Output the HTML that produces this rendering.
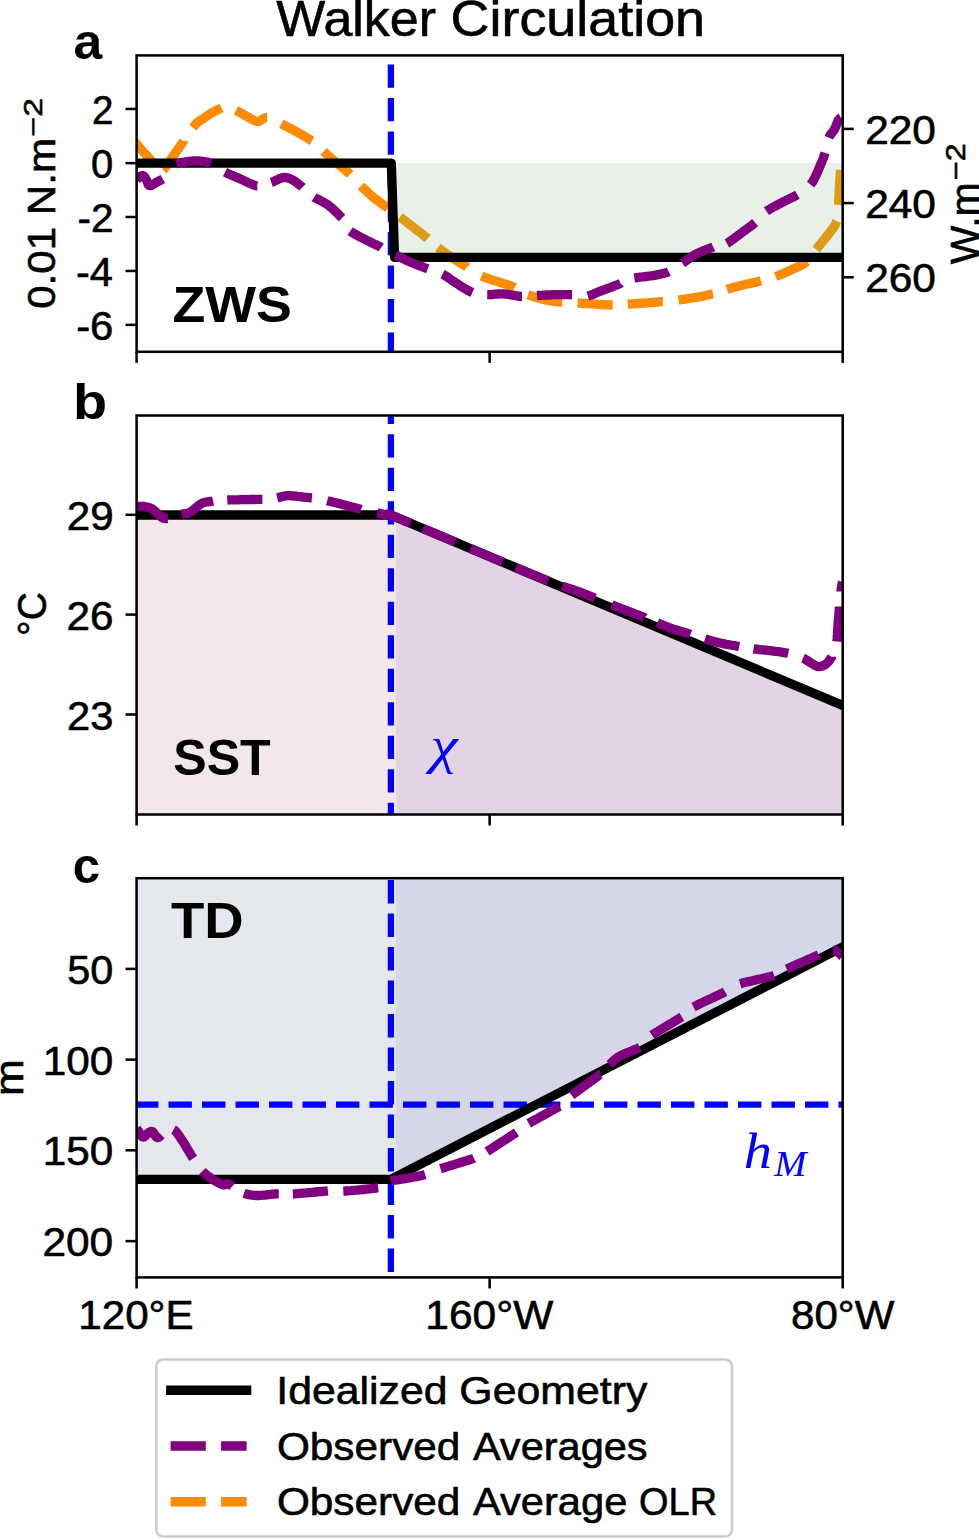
<!DOCTYPE html>
<html><head><meta charset="utf-8"><title>Walker Circulation</title>
<style>html,body{margin:0;padding:0;background:#fff;}svg{display:block;}</style></head>
<body><svg width="979" height="1540" viewBox="0 0 979 1540">
<rect width="979" height="1540" fill="#fff"/>
<defs>
<clipPath id="ca"><rect x="136.6" y="55.4" width="706.1" height="296.40000000000003"/></clipPath>
<clipPath id="cb"><rect x="136.6" y="415.5" width="706.1" height="399.0"/></clipPath>
<clipPath id="cc"><rect x="136.6" y="878.2" width="706.1" height="399.20000000000005"/></clipPath>
<clipPath id="infill"><rect x="396.0" y="163.1" width="446.70000000000005" height="94.20000000000002"/></clipPath>
<clipPath id="nofill"><path d="M0,0H979V1540H0Z M396.0,163.1V257.3H842.7V163.1Z" clip-rule="evenodd"/></clipPath>
</defs>
<rect x="396.0" y="163.1" width="446.70000000000005" height="94.20000000000002" fill="rgb(233,240,232)"/>
<g clip-path="url(#nofill)"><g fill="none" stroke="#ff8c00" stroke-width="9.3" stroke-linejoin="round" stroke-linecap="butt" clip-path="url(#ca)"><polyline points="130.0,135.0 130.3,135.4 130.7,136.0 131.2,136.7 131.7,137.4 132.3,138.2 132.9,139.0 133.5,139.9 134.2,140.8 134.8,141.6 135.4,142.5 136.0,143.3 136.6,144.0 137.1,144.7 137.7,145.3 138.2,146.0 138.7,146.6 139.3,147.2 139.8,147.9 140.3,148.5 140.9,149.1 141.4,149.7 141.9,150.3 142.5,150.9 143.0,151.5 143.5,152.1 144.1,152.7 144.7,153.3 145.2,153.9 145.8,154.5 146.4,155.1 146.9,155.7 147.5,156.3 148.0,156.9 148.6,157.5 149.1,158.1 149.6,158.7 150.1,159.3 150.6,159.9 151.1,160.5 151.5,161.1 152.0,161.7 152.0,161.7"/><polyline points="163.2,169.7 163.6,169.4 163.9,169.0 164.3,168.6 164.7,168.1 165.1,167.6 165.5,167.1 165.9,166.5 166.3,165.9 166.7,165.3 167.1,164.7 167.6,164.1 168.0,163.5 168.4,162.9 168.9,162.3 169.3,161.6 169.8,160.9 170.3,160.2 170.7,159.6 171.2,158.9 171.7,158.2 172.1,157.5 172.6,156.8 173.1,156.1 173.5,155.5 173.9,154.9 174.4,154.3 174.8,153.7 175.2,153.1 175.6,152.5 176.0,152.0 176.4,151.4 176.9,150.8 177.3,150.2 177.7,149.7 178.1,149.1 178.5,148.5 178.9,147.9 179.3,147.3 179.8,146.7 180.2,146.1 180.6,145.4 181.0,144.8 181.5,144.2 181.9,143.6 182.3,143.0 182.7,142.4 183.1,141.8 183.5,141.2 183.5,141.1"/><polyline points="192.9,127.7 193.3,127.2 193.7,126.7 194.0,126.3 194.4,125.8 194.8,125.3 195.2,124.9 195.5,124.5 195.9,124.1 196.3,123.7 196.7,123.3 197.1,122.9 197.5,122.5 197.9,122.1 198.3,121.8 198.8,121.5 199.2,121.2 199.6,120.9 200.1,120.6 200.6,120.3 201.0,120.0 201.5,119.7 202.0,119.4 202.5,119.1 203.1,118.7 203.7,118.3 204.3,117.9 204.9,117.4 205.5,117.0 206.2,116.5 206.9,116.0 207.6,115.6 208.2,115.1 208.9,114.6 209.6,114.2 210.3,113.7 211.0,113.3 211.7,112.9 212.4,112.5 213.1,112.1 213.8,111.7 214.6,111.3 215.3,110.9 216.0,110.5 216.7,110.2 217.4,109.8 218.1,109.5 218.8,109.2 219.4,108.9 220.0,108.6 220.6,108.4 221.1,108.1 221.5,107.9"/><polyline points="235.9,110.3 236.7,110.7 237.6,111.1 238.4,111.6 239.2,112.0 240.1,112.5 240.9,113.0 241.7,113.5 242.6,114.0 243.4,114.5 244.3,115.0 245.1,115.5 246.0,116.0 246.9,116.5 247.8,117.0 248.8,117.5 249.8,118.1 250.7,118.6 251.7,119.2 252.7,119.7 253.6,120.2 254.5,120.6 255.3,120.9 256.1,121.2 256.8,121.4 257.4,121.5 258.0,121.5 258.5,121.4 259.0,121.3 259.4,121.1 259.8,120.9 260.2,120.7 260.6,120.4 260.9,120.1 261.3,119.9 261.6,119.7 262.0,119.5 262.4,119.3 262.7,119.2 263.0,119.0 263.3,118.8 263.7,118.6 263.9,118.4 264.3,118.2 264.6,118.1 264.9,117.9 265.2,117.8 265.6,117.7 266.0,117.7 266.4,117.7 266.8,117.7 267.2,117.7"/><polyline points="281.3,123.8 282.3,124.3 283.4,124.9 284.6,125.5 285.8,126.1 287.0,126.7 288.3,127.4 289.6,128.1 290.9,128.7 292.2,129.4 293.5,130.1 294.7,130.8 296.0,131.5 297.3,132.2 298.6,133.0 300.0,133.7 301.4,134.5 302.8,135.3 304.2,136.1 305.5,136.9 306.8,137.7 308.1,138.4 309.2,139.1 310.3,139.8 311.3,140.4 312.0,140.8"/><polyline points="323.6,151.4 324.3,152.1 325.1,152.8 326.0,153.6 326.9,154.4 327.8,155.2 328.8,156.1 329.8,157.0 330.8,157.9 331.9,158.8 332.9,159.7 334.0,160.6 335.0,161.5 336.1,162.4 337.2,163.3 338.3,164.2 339.4,165.2 340.6,166.1 341.7,167.1 342.9,168.0 344.1,169.0 345.2,170.0 346.4,171.0 347.5,172.0 348.6,173.0 349.7,174.0 350.1,174.4"/><polyline points="361.0,186.0 362.0,187.0 363.0,188.0 364.0,188.9 365.0,189.9 366.0,190.8 367.0,191.7 367.9,192.6 368.9,193.5 369.9,194.4 370.9,195.3 372.0,196.1 373.0,197.0 374.0,197.9 375.1,198.7 376.2,199.5 377.2,200.3 378.3,201.1 379.4,201.9 380.5,202.7 381.6,203.5 382.7,204.4 383.8,205.2 384.9,206.0 386.0,206.8 387.1,207.6 388.0,208.3"/><polyline points="399.9,217.0 401.0,217.8 402.1,218.7 403.2,219.5 404.3,220.3 405.4,221.1 406.5,222.0 407.5,222.8 408.6,223.6 409.7,224.4 410.8,225.3 411.9,226.1 413.0,227.0 414.1,227.9 415.3,228.8 416.5,229.7 417.6,230.6 418.8,231.5 420.0,232.4 421.2,233.3 422.4,234.2 423.5,235.2 424.6,236.0 425.7,236.9 426.8,237.8 427.6,238.5"/><polyline points="437.9,247.6 439.0,248.4 440.1,249.2 441.2,250.1 442.4,250.9 443.5,251.7 444.7,252.6 445.9,253.4 447.1,254.2 448.4,255.1 449.6,255.9 450.8,256.7 452.0,257.5 453.2,258.3 454.4,259.1 455.7,259.9 456.9,260.7 458.1,261.5 459.4,262.3 460.6,263.1 461.8,263.9 463.1,264.7 464.3,265.5 465.6,266.2 466.8,267.0 467.0,267.2"/><polyline points="481.5,276.0 482.9,276.6 484.5,277.3 486.1,277.9 487.7,278.4 489.4,279.0 491.1,279.6 492.7,280.1 494.4,280.6 496.0,281.1 497.5,281.6 499.0,282.1 500.3,282.5 501.5,282.9 502.7,283.3 503.7,283.6 504.7,283.9 505.7,284.2 506.6,284.4 507.5,284.7 508.4,285.0 509.4,285.4 510.4,285.7 511.4,286.1 512.5,286.6 513.7,287.1 514.6,287.6"/><polyline points="528.0,294.7 529.3,295.2 530.7,295.7 532.0,296.2 533.4,296.7 534.8,297.1 536.1,297.5 537.5,297.9 538.9,298.3 540.3,298.6 541.7,299.0 543.0,299.3 544.4,299.6 545.8,299.9 547.1,300.2 548.5,300.4 549.8,300.7 551.2,300.9 552.5,301.1 553.9,301.3 555.2,301.5 556.6,301.6 557.9,301.8 559.3,302.0 560.7,302.1 562.1,302.2 562.2,302.2"/><polyline points="577.6,303.0 579.0,303.1 580.4,303.2 581.7,303.2 583.1,303.3 584.5,303.4 585.8,303.5 587.2,303.6 588.5,303.7 589.9,303.7 591.3,303.8 592.6,303.9 594.0,304.0 595.4,304.1 596.8,304.2 598.1,304.3 599.5,304.4 600.9,304.5 602.3,304.6 603.7,304.7 605.1,304.8 606.5,304.9 607.9,304.9 609.3,305.0 610.7,305.0 612.1,305.0 612.6,305.0"/><polyline points="627.8,304.2 629.2,304.1 630.7,304.0 632.1,303.9 633.6,303.8 635.0,303.7 636.5,303.6 637.9,303.5 639.3,303.4 640.8,303.3 642.2,303.2 643.6,303.1 645.0,303.0 646.4,302.9 647.8,302.8 649.1,302.7 650.5,302.6 651.8,302.5 653.1,302.4 654.5,302.3 655.8,302.2 657.2,302.1 658.5,301.9 659.9,301.8 661.3,301.7 662.7,301.6 662.8,301.6"/><polyline points="678.5,300.0 679.9,299.8 681.3,299.6 682.7,299.4 684.1,299.3 685.4,299.1 686.8,298.8 688.2,298.6 689.6,298.4 690.9,298.2 692.3,298.0 693.6,297.7 695.0,297.5 696.4,297.3 697.7,297.0 699.1,296.8 700.4,296.6 701.8,296.3 703.1,296.1 704.4,295.8 705.8,295.5 707.1,295.2 708.4,294.9 709.8,294.6 711.1,294.3 712.4,293.9 713.0,293.8"/><polyline points="726.9,289.3 728.2,288.9 729.6,288.5 730.9,288.2 732.2,287.8 733.5,287.4 734.9,287.1 736.2,286.7 737.6,286.4 738.9,286.0 740.3,285.7 741.6,285.3 743.0,285.0 744.4,284.7 745.8,284.3 747.2,284.0 748.7,283.7 750.1,283.4 751.5,283.1 753.0,282.8 754.4,282.4 755.8,282.1 757.2,281.8 758.6,281.4 760.0,281.1 761.0,280.8"/><polyline points="775.6,276.5 776.9,276.0 778.2,275.5 779.5,275.0 780.7,274.5 782.0,274.0 783.3,273.5 784.6,272.9 785.8,272.4 787.1,271.8 788.4,271.2 789.7,270.6 791.0,270.0 792.3,269.4 793.7,268.8 795.1,268.2 796.5,267.5 797.9,266.9 799.3,266.3 800.7,265.6 802.0,264.9 803.3,264.2 804.5,263.4 805.7,262.6 806.8,261.8 807.2,261.5"/><polyline points="816.2,249.5 817.1,248.4 818.0,247.3 818.9,246.1 819.8,245.0 820.8,243.8 821.7,242.6 822.7,241.4 823.6,240.3 824.5,239.2 825.4,238.1 826.2,237.0 827.0,236.0 827.8,235.0 828.5,234.1 829.2,233.2 829.9,232.4 830.6,231.5 831.2,230.7 831.8,229.9 832.4,229.1 833.0,228.3 833.5,227.6 834.0,226.8 834.5,226.0 834.9,225.2 835.3,224.5 835.7,223.8 836.0,223.0 836.3,222.3 836.5,221.6 836.7,221.2"/><polyline points="838.5,205.0 838.6,203.8 838.6,202.4 838.7,201.1 838.8,199.7 838.9,198.2 838.9,196.8 839.0,195.3 839.1,193.8 839.2,192.3 839.2,190.8 839.3,189.4 839.4,188.0 839.5,186.6 839.6,185.2 839.6,183.8 839.7,182.3 839.8,180.9 839.9,179.5 840.0,178.1 840.1,176.8 840.2,175.5 840.2,174.2 840.3,173.1 840.4,172.0 840.5,171.0 840.6,170.0 840.6,170.0"/></g></g>
<g clip-path="url(#infill)"><g fill="none" stroke="rgb(222,156,22)" stroke-width="9.3" stroke-linejoin="round" stroke-linecap="butt" clip-path="url(#ca)"><polyline points="130.0,135.0 130.3,135.4 130.7,136.0 131.2,136.7 131.7,137.4 132.3,138.2 132.9,139.0 133.5,139.9 134.2,140.8 134.8,141.6 135.4,142.5 136.0,143.3 136.6,144.0 137.1,144.7 137.7,145.3 138.2,146.0 138.7,146.6 139.3,147.2 139.8,147.9 140.3,148.5 140.9,149.1 141.4,149.7 141.9,150.3 142.5,150.9 143.0,151.5 143.5,152.1 144.1,152.7 144.7,153.3 145.2,153.9 145.8,154.5 146.4,155.1 146.9,155.7 147.5,156.3 148.0,156.9 148.6,157.5 149.1,158.1 149.6,158.7 150.1,159.3 150.6,159.9 151.1,160.5 151.5,161.1 152.0,161.7 152.0,161.7"/><polyline points="163.2,169.7 163.6,169.4 163.9,169.0 164.3,168.6 164.7,168.1 165.1,167.6 165.5,167.1 165.9,166.5 166.3,165.9 166.7,165.3 167.1,164.7 167.6,164.1 168.0,163.5 168.4,162.9 168.9,162.3 169.3,161.6 169.8,160.9 170.3,160.2 170.7,159.6 171.2,158.9 171.7,158.2 172.1,157.5 172.6,156.8 173.1,156.1 173.5,155.5 173.9,154.9 174.4,154.3 174.8,153.7 175.2,153.1 175.6,152.5 176.0,152.0 176.4,151.4 176.9,150.8 177.3,150.2 177.7,149.7 178.1,149.1 178.5,148.5 178.9,147.9 179.3,147.3 179.8,146.7 180.2,146.1 180.6,145.4 181.0,144.8 181.5,144.2 181.9,143.6 182.3,143.0 182.7,142.4 183.1,141.8 183.5,141.2 183.5,141.1"/><polyline points="192.9,127.7 193.3,127.2 193.7,126.7 194.0,126.3 194.4,125.8 194.8,125.3 195.2,124.9 195.5,124.5 195.9,124.1 196.3,123.7 196.7,123.3 197.1,122.9 197.5,122.5 197.9,122.1 198.3,121.8 198.8,121.5 199.2,121.2 199.6,120.9 200.1,120.6 200.6,120.3 201.0,120.0 201.5,119.7 202.0,119.4 202.5,119.1 203.1,118.7 203.7,118.3 204.3,117.9 204.9,117.4 205.5,117.0 206.2,116.5 206.9,116.0 207.6,115.6 208.2,115.1 208.9,114.6 209.6,114.2 210.3,113.7 211.0,113.3 211.7,112.9 212.4,112.5 213.1,112.1 213.8,111.7 214.6,111.3 215.3,110.9 216.0,110.5 216.7,110.2 217.4,109.8 218.1,109.5 218.8,109.2 219.4,108.9 220.0,108.6 220.6,108.4 221.1,108.1 221.5,107.9"/><polyline points="235.9,110.3 236.7,110.7 237.6,111.1 238.4,111.6 239.2,112.0 240.1,112.5 240.9,113.0 241.7,113.5 242.6,114.0 243.4,114.5 244.3,115.0 245.1,115.5 246.0,116.0 246.9,116.5 247.8,117.0 248.8,117.5 249.8,118.1 250.7,118.6 251.7,119.2 252.7,119.7 253.6,120.2 254.5,120.6 255.3,120.9 256.1,121.2 256.8,121.4 257.4,121.5 258.0,121.5 258.5,121.4 259.0,121.3 259.4,121.1 259.8,120.9 260.2,120.7 260.6,120.4 260.9,120.1 261.3,119.9 261.6,119.7 262.0,119.5 262.4,119.3 262.7,119.2 263.0,119.0 263.3,118.8 263.7,118.6 263.9,118.4 264.3,118.2 264.6,118.1 264.9,117.9 265.2,117.8 265.6,117.7 266.0,117.7 266.4,117.7 266.8,117.7 267.2,117.7"/><polyline points="281.3,123.8 282.3,124.3 283.4,124.9 284.6,125.5 285.8,126.1 287.0,126.7 288.3,127.4 289.6,128.1 290.9,128.7 292.2,129.4 293.5,130.1 294.7,130.8 296.0,131.5 297.3,132.2 298.6,133.0 300.0,133.7 301.4,134.5 302.8,135.3 304.2,136.1 305.5,136.9 306.8,137.7 308.1,138.4 309.2,139.1 310.3,139.8 311.3,140.4 312.0,140.8"/><polyline points="323.6,151.4 324.3,152.1 325.1,152.8 326.0,153.6 326.9,154.4 327.8,155.2 328.8,156.1 329.8,157.0 330.8,157.9 331.9,158.8 332.9,159.7 334.0,160.6 335.0,161.5 336.1,162.4 337.2,163.3 338.3,164.2 339.4,165.2 340.6,166.1 341.7,167.1 342.9,168.0 344.1,169.0 345.2,170.0 346.4,171.0 347.5,172.0 348.6,173.0 349.7,174.0 350.1,174.4"/><polyline points="361.0,186.0 362.0,187.0 363.0,188.0 364.0,188.9 365.0,189.9 366.0,190.8 367.0,191.7 367.9,192.6 368.9,193.5 369.9,194.4 370.9,195.3 372.0,196.1 373.0,197.0 374.0,197.9 375.1,198.7 376.2,199.5 377.2,200.3 378.3,201.1 379.4,201.9 380.5,202.7 381.6,203.5 382.7,204.4 383.8,205.2 384.9,206.0 386.0,206.8 387.1,207.6 388.0,208.3"/><polyline points="399.9,217.0 401.0,217.8 402.1,218.7 403.2,219.5 404.3,220.3 405.4,221.1 406.5,222.0 407.5,222.8 408.6,223.6 409.7,224.4 410.8,225.3 411.9,226.1 413.0,227.0 414.1,227.9 415.3,228.8 416.5,229.7 417.6,230.6 418.8,231.5 420.0,232.4 421.2,233.3 422.4,234.2 423.5,235.2 424.6,236.0 425.7,236.9 426.8,237.8 427.6,238.5"/><polyline points="437.9,247.6 439.0,248.4 440.1,249.2 441.2,250.1 442.4,250.9 443.5,251.7 444.7,252.6 445.9,253.4 447.1,254.2 448.4,255.1 449.6,255.9 450.8,256.7 452.0,257.5 453.2,258.3 454.4,259.1 455.7,259.9 456.9,260.7 458.1,261.5 459.4,262.3 460.6,263.1 461.8,263.9 463.1,264.7 464.3,265.5 465.6,266.2 466.8,267.0 467.0,267.2"/><polyline points="481.5,276.0 482.9,276.6 484.5,277.3 486.1,277.9 487.7,278.4 489.4,279.0 491.1,279.6 492.7,280.1 494.4,280.6 496.0,281.1 497.5,281.6 499.0,282.1 500.3,282.5 501.5,282.9 502.7,283.3 503.7,283.6 504.7,283.9 505.7,284.2 506.6,284.4 507.5,284.7 508.4,285.0 509.4,285.4 510.4,285.7 511.4,286.1 512.5,286.6 513.7,287.1 514.6,287.6"/><polyline points="528.0,294.7 529.3,295.2 530.7,295.7 532.0,296.2 533.4,296.7 534.8,297.1 536.1,297.5 537.5,297.9 538.9,298.3 540.3,298.6 541.7,299.0 543.0,299.3 544.4,299.6 545.8,299.9 547.1,300.2 548.5,300.4 549.8,300.7 551.2,300.9 552.5,301.1 553.9,301.3 555.2,301.5 556.6,301.6 557.9,301.8 559.3,302.0 560.7,302.1 562.1,302.2 562.2,302.2"/><polyline points="577.6,303.0 579.0,303.1 580.4,303.2 581.7,303.2 583.1,303.3 584.5,303.4 585.8,303.5 587.2,303.6 588.5,303.7 589.9,303.7 591.3,303.8 592.6,303.9 594.0,304.0 595.4,304.1 596.8,304.2 598.1,304.3 599.5,304.4 600.9,304.5 602.3,304.6 603.7,304.7 605.1,304.8 606.5,304.9 607.9,304.9 609.3,305.0 610.7,305.0 612.1,305.0 612.6,305.0"/><polyline points="627.8,304.2 629.2,304.1 630.7,304.0 632.1,303.9 633.6,303.8 635.0,303.7 636.5,303.6 637.9,303.5 639.3,303.4 640.8,303.3 642.2,303.2 643.6,303.1 645.0,303.0 646.4,302.9 647.8,302.8 649.1,302.7 650.5,302.6 651.8,302.5 653.1,302.4 654.5,302.3 655.8,302.2 657.2,302.1 658.5,301.9 659.9,301.8 661.3,301.7 662.7,301.6 662.8,301.6"/><polyline points="678.5,300.0 679.9,299.8 681.3,299.6 682.7,299.4 684.1,299.3 685.4,299.1 686.8,298.8 688.2,298.6 689.6,298.4 690.9,298.2 692.3,298.0 693.6,297.7 695.0,297.5 696.4,297.3 697.7,297.0 699.1,296.8 700.4,296.6 701.8,296.3 703.1,296.1 704.4,295.8 705.8,295.5 707.1,295.2 708.4,294.9 709.8,294.6 711.1,294.3 712.4,293.9 713.0,293.8"/><polyline points="726.9,289.3 728.2,288.9 729.6,288.5 730.9,288.2 732.2,287.8 733.5,287.4 734.9,287.1 736.2,286.7 737.6,286.4 738.9,286.0 740.3,285.7 741.6,285.3 743.0,285.0 744.4,284.7 745.8,284.3 747.2,284.0 748.7,283.7 750.1,283.4 751.5,283.1 753.0,282.8 754.4,282.4 755.8,282.1 757.2,281.8 758.6,281.4 760.0,281.1 761.0,280.8"/><polyline points="775.6,276.5 776.9,276.0 778.2,275.5 779.5,275.0 780.7,274.5 782.0,274.0 783.3,273.5 784.6,272.9 785.8,272.4 787.1,271.8 788.4,271.2 789.7,270.6 791.0,270.0 792.3,269.4 793.7,268.8 795.1,268.2 796.5,267.5 797.9,266.9 799.3,266.3 800.7,265.6 802.0,264.9 803.3,264.2 804.5,263.4 805.7,262.6 806.8,261.8 807.2,261.5"/><polyline points="816.2,249.5 817.1,248.4 818.0,247.3 818.9,246.1 819.8,245.0 820.8,243.8 821.7,242.6 822.7,241.4 823.6,240.3 824.5,239.2 825.4,238.1 826.2,237.0 827.0,236.0 827.8,235.0 828.5,234.1 829.2,233.2 829.9,232.4 830.6,231.5 831.2,230.7 831.8,229.9 832.4,229.1 833.0,228.3 833.5,227.6 834.0,226.8 834.5,226.0 834.9,225.2 835.3,224.5 835.7,223.8 836.0,223.0 836.3,222.3 836.5,221.6 836.7,221.2"/><polyline points="838.5,205.0 838.6,203.8 838.6,202.4 838.7,201.1 838.8,199.7 838.9,198.2 838.9,196.8 839.0,195.3 839.1,193.8 839.2,192.3 839.2,190.8 839.3,189.4 839.4,188.0 839.5,186.6 839.6,185.2 839.6,183.8 839.7,182.3 839.8,180.9 839.9,179.5 840.0,178.1 840.1,176.8 840.2,175.5 840.2,174.2 840.3,173.1 840.4,172.0 840.5,171.0 840.6,170.0 840.6,170.0"/></g></g>
<line x1="390.9" y1="-2.5999999999999943" x2="390.9" y2="391.8" stroke="#0000ff" stroke-width="6.3" stroke-dasharray="23.4 10.1" clip-path="url(#ca)"/>
<polyline points="120.0,163.1 391.3,163.1 394.6,257.3 860.0,257.3" fill="none" stroke="#000" stroke-width="9.3" stroke-linejoin="round" stroke-linecap="square" clip-path="url(#ca)"/>
<g fill="none" stroke="#800080" stroke-width="9.3" stroke-linejoin="round" stroke-linecap="butt" clip-path="url(#ca)"><polyline points="136.6,179.6 136.8,179.4 137.0,179.2 137.2,179.0 137.5,178.7 137.8,178.4 138.1,178.1 138.4,177.8 138.7,177.5 139.1,177.2 139.4,176.9 139.7,176.7 140.0,176.5 140.3,176.3 140.6,176.2 140.9,176.1 141.2,175.9 141.5,175.8 141.8,175.8 142.1,175.7 142.4,175.7 142.7,175.7 142.9,175.7 143.2,175.8 143.5,175.9 143.8,176.1 144.0,176.3 144.3,176.6 144.5,176.9 144.8,177.2 145.0,177.6 145.3,177.9 145.5,178.3 145.8,178.8 146.0,179.2 146.2,179.6 146.5,180.0 146.7,180.4 147.0,181.0 147.2,181.5 147.4,182.1 147.6,182.7 147.8,183.3 148.0,183.9 148.2,184.4 148.5,184.9 148.8,185.3 149.2,185.5 149.6,185.7 150.1,185.7 150.6,185.6 151.1,185.5 151.7,185.2 152.3,184.9 153.0,184.5 153.6,184.1 154.3,183.7 155.0,183.2 155.7,182.8 156.3,182.4 157.0,182.0 157.7,181.6 158.4,181.3 159.1,180.9 159.9,180.6 160.6,180.2 161.4,179.8 162.1,179.4 162.8,179.0"/><polyline points="176.5,164.0 177.4,163.7 178.3,163.4 179.4,163.1 180.5,162.8 181.7,162.6 183.0,162.3 184.2,162.1 185.5,161.9 186.7,161.7 187.9,161.6 189.0,161.4 190.0,161.3 190.9,161.2 191.8,161.1 192.7,161.0 193.5,160.9 194.3,160.9 195.1,160.8 195.8,160.8 196.6,160.8 197.4,160.8 198.2,160.9 199.1,160.9 200.0,161.0 201.0,161.1 202.0,161.2 203.1,161.4 204.2,161.6 205.4,161.8 206.5,162.0 207.7,162.2 208.8,162.5 209.8,162.8 210.8,163.0 211.1,163.1"/><polyline points="225.0,172.2 226.0,172.7 227.0,173.2 228.2,173.7 229.4,174.2 230.7,174.8 232.0,175.3 233.3,175.9 234.7,176.5 236.0,177.1 237.4,177.7 238.7,178.2 240.0,178.8 241.3,179.4 242.6,180.0 244.0,180.6 245.4,181.3 246.7,181.9 248.1,182.6 249.4,183.2 250.8,183.8 252.0,184.3 253.2,184.8 254.3,185.2 255.3,185.5 256.2,185.7 257.0,185.9 257.3,185.9"/><polyline points="271.3,182.5 272.2,182.2 273.1,181.7 274.0,181.3 275.0,180.8 276.1,180.3 277.1,179.8 278.1,179.3 279.1,178.8 280.1,178.4 281.1,178.1 282.0,177.8 282.9,177.6 283.7,177.5 284.5,177.5 285.2,177.5 285.9,177.5 286.6,177.6 287.3,177.8 288.0,178.0 288.7,178.2 289.3,178.4 290.0,178.7 290.8,179.1 291.5,179.4 292.3,179.8 293.1,180.3 293.9,180.8 294.8,181.3 295.7,181.9 296.5,182.5 297.4,183.2 298.2,183.8 299.0,184.5 299.8,185.1 300.6,185.7 301.3,186.2 302.0,186.7 302.5,187.2"/><polyline points="314.2,197.2 315.1,197.8 316.1,198.3 317.2,198.9 318.4,199.5 319.6,200.1 320.8,200.8 322.1,201.5 323.4,202.1 324.7,202.9 325.9,203.6 327.1,204.4 328.3,205.2 329.4,206.1 330.6,207.0 331.8,208.0 332.9,209.0 334.1,210.1 335.2,211.2 336.3,212.2 337.4,213.3 338.4,214.3 339.3,215.3 340.2,216.2 341.0,217.0 341.7,217.8 342.0,218.1"/><polyline points="350.2,231.1 351.2,231.8 352.3,232.5 353.5,233.3 354.9,234.1 356.3,234.9 357.8,235.7 359.4,236.5 360.9,237.3 362.5,238.1 364.0,238.9 365.4,239.6 366.8,240.3 368.1,241.0 369.5,241.7 370.8,242.4 372.1,243.0 373.5,243.7 374.8,244.3 376.1,244.9 377.3,245.5 378.4,246.1 379.5,246.6 380.6,247.1 381.2,247.5"/><polyline points="395.6,255.0 396.6,255.5 397.7,256.0 398.9,256.6 400.1,257.2 401.4,257.9 402.7,258.5 404.1,259.2 405.5,259.8 406.9,260.5 408.2,261.1 409.6,261.7 410.9,262.3 412.2,262.9 413.6,263.4 415.0,264.0 416.4,264.6 417.9,265.1 419.3,265.7 420.7,266.2 422.0,266.7 423.4,267.2 424.6,267.7 425.7,268.1 426.8,268.5 427.8,268.9 427.8,268.9"/><polyline points="442.6,274.2 443.4,274.6 444.3,275.1 445.2,275.7 446.2,276.3 447.2,277.0 448.3,277.7 449.4,278.5 450.4,279.2 451.5,280.0 452.7,280.8 453.8,281.5 454.9,282.3 456.0,283.0 457.1,283.7 458.3,284.5 459.5,285.3 460.8,286.1 462.0,286.9 463.3,287.6 464.5,288.4 465.7,289.1 466.9,289.8 468.0,290.5 469.0,291.0 470.0,291.5 470.9,291.9 471.7,292.2 472.4,292.5 472.4,292.5"/><polyline points="487.2,294.7 488.3,294.7 489.5,294.6 490.8,294.6 492.1,294.5 493.4,294.3 494.9,294.2 496.3,294.1 497.7,294.0 499.2,293.9 500.6,293.9 502.1,293.9 503.5,293.9 504.9,294.0 506.4,294.2 507.9,294.4 509.5,294.6 511.1,294.9 512.6,295.1 514.1,295.4 515.6,295.7 517.0,295.9 518.3,296.1 519.6,296.3 520.7,296.4 521.7,296.5 522.1,296.5"/><polyline points="537.0,295.6 538.1,295.5 539.3,295.5 540.7,295.4 542.1,295.3 543.5,295.2 545.0,295.1 546.6,295.0 548.1,295.0 549.7,294.9 551.2,294.8 552.7,294.7 554.2,294.7 555.7,294.7 557.2,294.6 558.7,294.6 560.3,294.6 561.8,294.6 563.3,294.6 564.8,294.6 566.3,294.6 567.7,294.6 569.0,294.6 570.2,294.7 571.3,294.7 572.1,294.7"/><polyline points="587.8,296.0 588.8,295.7 589.9,295.4 591.0,295.0 592.2,294.6 593.5,294.1 594.7,293.5 596.0,293.0 597.3,292.4 598.6,291.9 599.9,291.3 601.2,290.8 602.5,290.3 603.8,289.8 605.1,289.3 606.5,288.8 607.9,288.3 609.3,287.8 610.7,287.3 612.0,286.8 613.4,286.3 614.6,285.8 615.8,285.3 617.0,284.9 618.0,284.5 618.9,284.1 619.8,283.8 620.5,283.5 620.6,283.4"/><polyline points="634.3,278.0 635.5,277.8 636.9,277.6 638.4,277.4 640.0,277.2 641.6,277.0 643.4,276.8 645.1,276.6 646.8,276.4 648.5,276.2 650.1,276.0 651.7,275.8 653.1,275.6 654.4,275.4 655.8,275.1 657.1,274.9 658.3,274.6 659.5,274.3 660.7,274.1 661.9,273.8 663.0,273.5 664.1,273.2 665.1,272.9 666.1,272.6 667.0,272.3 667.9,272.0 668.7,271.6 668.7,271.6"/><polyline points="682.5,263.3 683.4,262.7 684.3,262.0 685.3,261.3 686.4,260.5 687.4,259.7 688.6,258.9 689.7,258.1 690.8,257.3 692.0,256.5 693.2,255.7 694.4,255.0 695.6,254.3 696.8,253.7 698.1,253.0 699.5,252.4 700.9,251.8 702.3,251.2 703.7,250.6 705.1,250.1 706.4,249.6 707.7,249.1 708.9,248.6 710.1,248.2 711.1,247.8 712.0,247.5 712.9,247.2 713.3,247.0"/><polyline points="726.9,243.4 727.8,242.9 728.8,242.3 729.8,241.6 730.8,240.9 731.9,240.1 733.0,239.2 734.2,238.4 735.3,237.5 736.5,236.6 737.7,235.7 738.8,234.9 740.0,234.0 741.2,233.1 742.4,232.2 743.7,231.3 745.0,230.3 746.4,229.4 747.7,228.4 749.0,227.4 750.2,226.5 751.4,225.6 752.5,224.8 753.5,223.9 754.4,223.2 755.1,222.6"/><polyline points="766.4,211.2 767.3,210.6 768.4,210.0 769.5,209.3 770.7,208.6 771.9,207.9 773.2,207.2 774.5,206.5 775.8,205.8 777.1,205.0 778.5,204.3 779.8,203.7 781.0,203.0 782.3,202.3 783.5,201.7 784.9,201.0 786.2,200.4 787.5,199.7 788.9,199.1 790.2,198.4 791.4,197.8 792.6,197.2 793.8,196.7 794.8,196.1 795.8,195.6 796.7,195.1 797.4,194.7"/><polyline points="810.5,184.6 811.0,184.0 811.4,183.5 811.8,182.9 812.2,182.3 812.6,181.8 813.0,181.2 813.3,180.6 813.7,180.0 814.0,179.3 814.3,178.7 814.7,178.0 815.1,177.2 815.5,176.4 815.9,175.5 816.3,174.7 816.7,173.7 817.2,172.8 817.6,171.8 818.0,170.8 818.4,169.9 818.8,168.9 819.2,167.9 819.6,166.9 820.0,166.0 820.4,165.1 820.7,164.2 821.1,163.4 821.5,162.6 821.8,161.8 822.2,160.9 822.5,160.1 822.9,159.2 823.2,158.3 823.6,157.3 823.9,156.2 824.3,155.1 824.7,153.8 825.0,152.8"/><polyline points="828.9,137.7 829.3,136.7 829.8,135.8 830.3,135.0 830.7,134.3 831.2,133.6 831.7,133.0 832.2,132.4 832.7,131.8 833.1,131.3 833.6,130.7 834.0,130.1 834.4,129.4 834.8,128.7 835.1,127.9 835.5,127.2 835.8,126.4 836.1,125.7 836.4,124.9 836.7,124.2 836.9,123.4 837.2,122.8 837.5,122.1 837.7,121.5 838.0,121.0 838.3,120.5 838.5,120.1 838.8,119.7 839.1,119.3 839.4,119.0 839.6,118.7 839.9,118.5 840.1,118.2 840.3,118.0 840.5,117.8 840.7,117.7 840.8,117.5"/></g>
<rect x="136.6" y="515.0" width="259.4" height="299.5" fill="rgb(244,231,236)"/>
<polygon points="396.0,517.1 842.7,705.5 842.7,814.5 396.0,814.5" fill="rgb(227,211,228)"/>
<line x1="390.9" y1="367.2" x2="390.9" y2="854.5" stroke="#0000ff" stroke-width="6.3" stroke-dasharray="23.4 10.1" clip-path="url(#cb)"/>
<polyline points="120.0,515.0 391.0,515.0 842.7,705.5 860.0,712.8" fill="none" stroke="#000" stroke-width="9.3" stroke-linejoin="round" stroke-linecap="square" clip-path="url(#cb)"/>
<g fill="none" stroke="#800080" stroke-width="9.3" stroke-linejoin="round" stroke-linecap="butt" clip-path="url(#cb)"><polyline points="136.6,506.5 137.0,506.5 137.4,506.5 138.0,506.5 138.6,506.4 139.3,506.4 140.0,506.4 140.7,506.4 141.5,506.3 142.2,506.4 143.0,506.4 143.7,506.4 144.3,506.5 144.9,506.6 145.5,506.7 146.2,506.8 146.8,507.0 147.4,507.1 148.0,507.3 148.6,507.5 149.2,507.7 149.8,507.9 150.4,508.1 151.0,508.3 151.5,508.6 152.0,508.9 152.5,509.2 153.0,509.5 153.4,509.9 153.9,510.2 154.3,510.6 154.8,511.0 155.2,511.4 155.6,511.8 156.1,512.2 156.5,512.6 157.0,513.0 157.5,513.4 157.9,513.8 158.4,514.3 158.9,514.8 159.4,515.2 159.9,515.7 160.3,516.2 160.8,516.6 161.3,517.0 161.8,517.4 162.4,517.7 162.9,517.9 163.4,518.1 164.0,518.2 164.5,518.4 165.0,518.4 165.6,518.5 166.1,518.5 166.7,518.5 167.3,518.4 167.9,518.4 167.9,518.4"/><polyline points="181.5,514.3 182.3,514.1 183.1,513.9 183.8,513.8 184.4,513.7 185.1,513.6 185.8,513.6 186.4,513.5 187.1,513.3 187.7,513.1 188.4,512.9 189.2,512.6 190.0,512.2 190.9,511.7 191.8,511.1 192.7,510.4 193.7,509.6 194.7,508.7 195.7,507.9 196.8,507.1 197.8,506.2 198.8,505.4 199.7,504.7 200.6,504.1 201.5,503.6 202.3,503.2 203.1,502.9 203.9,502.6 204.6,502.4 205.3,502.2 206.0,502.1 206.7,502.0 207.4,501.9 208.1,501.8 208.7,501.7 209.4,501.6 210.1,501.5 210.8,501.4 211.4,501.3 212.1,501.2 212.7,501.1 213.1,501.0"/><polyline points="227.3,500.0 229.3,499.9 231.8,499.9 234.6,499.8 237.6,499.8 240.9,499.7 244.2,499.6 247.5,499.6 250.7,499.5 253.7,499.5 256.5,499.4 258.9,499.3 260.9,499.3 262.4,499.3"/><polyline points="277.2,497.9 278.0,497.7 278.8,497.5 279.6,497.3 280.4,497.1 281.2,496.8 282.0,496.6 282.9,496.4 283.9,496.1 284.9,496.0 286.0,495.8 287.3,495.7 288.6,495.7 290.1,495.7 291.8,495.8 293.7,496.0 295.7,496.1 297.8,496.4 299.9,496.6 302.0,496.8 304.0,497.1 306.0,497.3 307.8,497.5 309.4,497.7 310.8,497.9 311.9,498.0"/><polyline points="327.2,500.7 328.3,501.0 329.7,501.3 331.1,501.6 332.6,502.0 334.2,502.4 335.8,502.8 337.5,503.2 339.0,503.6 340.6,504.0 342.0,504.4 343.3,504.7 344.4,505.0 345.4,505.2 346.2,505.5 346.9,505.7 347.6,505.8 348.2,506.0 348.7,506.1 349.2,506.3 349.7,506.4 350.2,506.5 350.8,506.7 351.4,506.8 352.0,507.0 352.7,507.2 353.3,507.4 354.0,507.5 354.6,507.7 355.2,507.9 355.9,508.1 356.6,508.2 357.3,508.4 358.1,508.6 359.0,508.8 359.9,509.1 360.9,509.3 361.2,509.4"/><polyline points="377.3,512.9 378.3,513.1 379.1,513.3 379.9,513.5 380.6,513.6 381.2,513.7 381.8,513.9 382.4,514.0 382.9,514.1 383.4,514.2 383.9,514.3 384.4,514.4 385.0,514.5 385.5,514.6 385.8,514.6 386.1,514.5 386.3,514.4 386.5,514.3 386.7,514.3 387.0,514.2 387.4,514.2 387.9,514.3 388.7,514.5 389.7,514.8 391.0,515.3 392.6,515.9 394.4,516.6 396.4,517.4 398.6,518.3 400.9,519.2 403.4,520.3 406.0,521.3 408.7,522.5 410.5,523.2"/><polyline points="422.9,528.5 426.0,529.8 429.2,531.1 432.5,532.5 435.9,533.9 439.3,535.4 442.8,536.8 446.3,538.3 449.7,539.8 453.2,541.2 455.3,542.1"/><polyline points="470.2,548.4 473.7,549.9 477.2,551.3 480.6,552.8 484.0,554.2 487.4,555.7 490.7,557.0 493.9,558.4 497.0,559.7 500.0,561.0 502.6,562.1"/><polyline points="515.6,567.6 518.0,568.6 520.4,569.6 522.7,570.6 525.1,571.6 527.5,572.6 530.0,573.6 532.5,574.6 535.1,575.7 537.7,576.7 540.4,577.8 543.0,578.8 545.6,579.8 548.2,580.8"/><polyline points="562.0,586.0 563.9,586.7 565.7,587.3 567.4,587.9 569.0,588.5 570.6,589.0 572.2,589.5 573.7,590.0 575.2,590.5 576.8,591.0 578.4,591.6 580.0,592.2 581.7,592.8 583.3,593.5 585.0,594.1 586.7,594.8 588.3,595.5 590.0,596.1 591.7,596.8 593.3,597.5 594.9,598.2"/><polyline points="611.7,604.8 613.3,605.5 615.0,606.1 616.7,606.8 618.3,607.4 620.0,608.1 621.7,608.8 623.4,609.4 625.1,610.1 626.8,610.7 628.5,611.4 630.2,612.0 632.0,612.7 633.6,613.3 635.3,614.0 636.9,614.6 638.5,615.2 640.0,615.8 641.5,616.4 642.9,617.0 644.3,617.5 644.4,617.6"/><polyline points="657.3,622.8 658.6,623.4 660.0,623.9 661.3,624.4 662.6,625.0 663.9,625.5 665.2,626.0 666.5,626.6 667.9,627.1 669.2,627.6 670.6,628.1 672.0,628.6 673.4,629.1 674.9,629.6 676.4,630.0 678.0,630.5 679.5,631.0 681.1,631.4 682.6,631.9 684.1,632.3 685.7,632.8 687.2,633.2 688.6,633.7 690.0,634.1 690.5,634.3"/><polyline points="705.0,638.9 706.2,639.3 707.5,639.6 708.7,640.0 709.9,640.3 711.1,640.7 712.3,641.0 713.5,641.4 714.8,641.7 716.0,642.0 717.3,642.4 718.6,642.7 720.0,643.0 721.4,643.3 722.9,643.6 724.4,643.9 725.9,644.2 727.5,644.5 729.0,644.7 730.6,645.0 732.2,645.3 733.7,645.5 735.2,645.8 736.7,646.1 738.1,646.3 739.2,646.5"/><polyline points="753.5,648.9 754.9,649.1 756.3,649.2 757.7,649.4 759.1,649.5 760.5,649.7 761.9,649.8 763.4,649.9 764.8,650.1 766.3,650.2 767.7,650.4 769.2,650.5 770.6,650.7 772.1,650.9 773.6,651.1 775.1,651.3 776.7,651.5 778.3,651.7 779.8,651.9 781.3,652.1 782.8,652.4 784.2,652.6 785.5,652.8 786.7,653.0 787.8,653.2 788.3,653.3"/><polyline points="803.1,658.1 803.8,658.4 804.4,658.8 805.1,659.2 805.8,659.6 806.5,660.0 807.1,660.5 807.8,660.9 808.5,661.4 809.1,661.8 809.8,662.2 810.5,662.6 811.1,663.0 811.7,663.4 812.4,663.7 813.0,664.1 813.6,664.5 814.2,664.9 814.8,665.3 815.5,665.6 816.1,665.9 816.7,666.2 817.3,666.4 817.9,666.5 818.5,666.6 819.1,666.6 819.7,666.6 820.4,666.5 821.0,666.4 821.6,666.2 822.3,666.0 822.9,665.8 823.5,665.5 824.1,665.2 824.7,664.9 825.3,664.6 825.8,664.2 826.3,663.8 826.8,663.3 827.4,662.8 827.9,662.3 828.3,661.8 828.8,661.2 829.3,660.6 829.7,660.0 830.1,659.3 830.5,658.7 830.9,658.1 831.3,657.5 831.7,656.9 831.7,656.8"/><polyline points="836.8,641.5 836.9,640.4 837.1,639.2 837.2,637.9 837.3,636.6 837.4,635.2 837.5,633.7 837.5,632.2 837.6,630.8 837.7,629.3 837.8,627.8 837.9,626.4 838.0,625.0 838.1,623.6 838.2,622.2 838.3,620.8 838.4,619.4 838.6,618.0 838.7,616.7 838.8,615.3 838.9,613.9 839.0,612.6 839.1,611.4 839.2,610.2 839.3,609.0 839.4,607.9 839.5,606.9 839.5,606.5"/><polyline points="840.9,591.4 840.9,591.1 841.0,590.4 841.1,589.7 841.2,589.0 841.3,588.3 841.4,587.6 841.5,586.9 841.6,586.3 841.7,585.6 841.9,584.9 842.0,584.3 842.1,583.7 842.2,583.2 842.3,582.7 842.3,582.3 842.4,582.0"/></g>
<rect x="136.6" y="878.2" width="259.4" height="301.0999999999999" fill="rgb(228,231,235)"/>
<polygon points="396.0,878.2 842.7,878.2 842.7,947.0 396.0,1176.7" fill="rgb(213,214,232)"/>
<line x1="390.9" y1="846.6" x2="390.9" y2="1317.4" stroke="#0000ff" stroke-width="6.3" stroke-dasharray="23.4 10.1" clip-path="url(#cc)"/>
<line x1="101.5" y1="1104.6" x2="882.7" y2="1104.6" stroke="#0000ff" stroke-width="6.3" stroke-dasharray="23.4 10.1" clip-path="url(#cc)"/>
<polyline points="120.0,1179.3 391.0,1179.3 842.7,947.0 860.0,938.0" fill="none" stroke="#000" stroke-width="9.3" stroke-linejoin="round" stroke-linecap="square" clip-path="url(#cc)"/>
<g fill="none" stroke="#800080" stroke-width="9.3" stroke-linejoin="round" stroke-linecap="butt" clip-path="url(#cc)"><polyline points="136.6,1128.5 136.9,1128.9 137.3,1129.6 137.8,1130.3 138.3,1131.1 138.9,1132.0 139.5,1132.9 140.1,1133.8 140.7,1134.7 141.3,1135.5 141.9,1136.2 142.4,1136.7 142.9,1137.0 143.3,1137.2 143.7,1137.2 144.1,1137.0 144.4,1136.8 144.7,1136.5 145.0,1136.2 145.3,1135.8 145.6,1135.4 146.0,1135.0 146.3,1134.6 146.6,1134.3 147.0,1134.0 147.4,1133.7 147.8,1133.5 148.2,1133.1 148.6,1132.8 149.0,1132.5 149.5,1132.2 149.9,1131.9 150.3,1131.7 150.8,1131.5 151.2,1131.4 151.7,1131.4 152.1,1131.5 152.5,1131.7 153.0,1132.2 153.4,1132.7 153.8,1133.3 154.3,1134.0 154.7,1134.7 155.2,1135.5 155.6,1136.1 156.1,1136.7 156.6,1137.2 157.1,1137.5 157.6,1137.6 158.1,1137.5 158.7,1137.3 159.3,1136.9 159.9,1136.5 160.5,1135.9 161.1,1135.3 161.4,1135.0"/><polyline points="173.5,1129.6 174.2,1130.0 174.8,1130.5 175.5,1131.0 176.1,1131.7 176.8,1132.5 177.4,1133.4 178.1,1134.3 178.7,1135.2 179.4,1136.2 180.1,1137.3 180.8,1138.3 181.5,1139.4 182.3,1140.5 183.1,1141.8 183.9,1143.1 184.8,1144.5 185.7,1146.0 186.5,1147.5 187.4,1148.9 188.3,1150.4 189.1,1151.8 189.9,1153.1 190.6,1154.3 191.3,1155.4 191.9,1156.4 192.5,1157.3 193.0,1158.1 193.2,1158.4"/><polyline points="202.3,1171.3 203.0,1172.0 203.8,1172.7 204.7,1173.4 205.6,1174.2 206.6,1175.0 207.6,1175.8 208.6,1176.5 209.6,1177.3 210.6,1178.0 211.6,1178.7 212.5,1179.3 213.4,1179.9 214.3,1180.5 215.2,1181.0 216.0,1181.5 216.9,1182.0 217.8,1182.5 218.7,1182.9 219.5,1183.3 220.3,1183.7 221.1,1184.1 221.8,1184.4 222.5,1184.6 223.2,1184.8 223.8,1184.9 224.3,1184.9 224.8,1184.9 225.2,1184.7 225.6,1184.6 226.0,1184.4 226.4,1184.2 226.7,1184.0 227.1,1183.9 227.5,1183.9 228.0,1183.9 228.5,1184.0 229.0,1184.2 229.6,1184.5 230.2,1184.9 230.8,1185.3 231.4,1185.7 232.1,1186.2 232.3,1186.4"/><polyline points="244.0,1193.4 244.9,1193.7 245.9,1193.9 246.9,1194.2 247.9,1194.4 249.0,1194.6 250.1,1194.8 251.2,1195.0 252.4,1195.2 253.6,1195.3 254.9,1195.4 256.1,1195.5 257.4,1195.5 258.8,1195.5 260.2,1195.4 261.7,1195.3 263.3,1195.2 264.9,1195.1 266.5,1194.9 268.1,1194.7 269.7,1194.5 271.2,1194.4 272.6,1194.2 273.9,1194.1 275.1,1194.0 276.1,1193.9 277.1,1193.9 277.9,1193.9 278.7,1193.9 278.8,1193.9"/><polyline points="292.9,1194.0 294.9,1193.9 297.2,1193.7 299.9,1193.4 302.9,1193.1 306.0,1192.9 309.2,1192.6 312.4,1192.3 315.5,1192.0 318.5,1191.7 321.2,1191.5 323.6,1191.3 325.5,1191.1 327.0,1191.0 327.9,1190.9"/><polyline points="343.3,1191.1 345.3,1191.0 347.7,1190.8 350.4,1190.6 353.4,1190.3 356.5,1190.1 359.7,1189.8 362.9,1189.5 366.1,1189.2 369.0,1188.9 371.7,1188.6 374.0,1188.4 375.9,1188.1 377.4,1187.8 378.2,1187.7"/><polyline points="390.7,1181.0 391.4,1180.8 392.0,1180.6 392.6,1180.5 393.1,1180.4 393.7,1180.4 394.3,1180.3 395.0,1180.2 395.7,1180.1 396.6,1180.0 397.6,1179.9 398.7,1179.7 400.0,1179.5 401.5,1179.2 403.3,1178.9 405.3,1178.6 407.4,1178.2 409.6,1177.8 411.8,1177.4 414.1,1177.0 416.4,1176.6 418.6,1176.1 420.7,1175.7 422.7,1175.3 424.5,1174.8 425.2,1174.6"/><polyline points="440.5,1168.7 442.7,1168.0 445.2,1167.2 447.9,1166.4 450.8,1165.5 453.9,1164.6 456.9,1163.6 460.0,1162.7 462.9,1161.8 465.7,1161.0 468.2,1160.2 470.4,1159.5 472.3,1158.9 473.8,1158.4 474.0,1158.3"/><polyline points="487.0,1151.5 488.7,1150.4 490.7,1149.1 493.1,1147.6 495.6,1146.0 498.3,1144.2 501.1,1142.4 503.9,1140.6 506.6,1138.9 509.2,1137.2 511.5,1135.7 513.5,1134.3 515.2,1133.2 516.4,1132.4"/><polyline points="528.7,1123.4 530.5,1122.4 532.7,1121.1 535.3,1119.7 538.0,1118.2 541.0,1116.5 544.1,1114.9 547.1,1113.2 550.1,1111.5 552.9,1110.0 555.4,1108.5 557.6,1107.3 559.3,1106.2"/><polyline points="571.6,1095.2 573.2,1094.0 575.1,1092.6 577.4,1091.0 579.8,1089.2 582.4,1087.3 585.1,1085.4 587.8,1083.4 590.4,1081.5 592.9,1079.8 595.1,1078.1 597.0,1076.7 598.6,1075.5 599.8,1074.5 599.9,1074.5"/><polyline points="609.6,1064.5 610.3,1063.9 610.9,1063.3 611.6,1062.6 612.4,1061.9 613.1,1061.2 613.9,1060.4 614.8,1059.7 615.7,1058.9 616.6,1058.2 617.7,1057.5 618.8,1056.7 620.0,1056.0 621.4,1055.3 622.9,1054.6 624.6,1053.8 626.3,1053.1 628.2,1052.3 630.1,1051.6 631.9,1050.9 633.7,1050.1 635.4,1049.4 637.0,1048.8 638.4,1048.1 639.6,1047.5 639.8,1047.4"/><polyline points="651.9,1035.2 653.5,1034.1 655.5,1032.8 657.9,1031.4 660.4,1029.8 663.1,1028.2 665.9,1026.5 668.7,1024.9 671.4,1023.3 673.9,1021.7 676.3,1020.3 678.3,1019.1 680.0,1018.0 681.3,1017.1 681.8,1016.8"/><polyline points="693.5,1007.0 695.3,1006.1 697.5,1005.0 700.0,1003.7 702.8,1002.4 705.7,1001.0 708.8,999.6 711.8,998.2 714.8,996.8 717.6,995.5 720.1,994.3 722.4,993.2 724.2,992.3 725.1,991.8"/><polyline points="740.1,983.7 741.9,983.2 744.2,982.6 746.7,982.0 749.5,981.4 752.4,980.7 755.4,980.0 758.5,979.3 761.4,978.7 764.2,978.0 766.7,977.4 769.0,976.9 770.8,976.4 772.3,976.0 773.5,975.6 774.2,975.3"/><polyline points="786.7,969.0 788.5,968.2 790.7,967.2 793.3,966.1 796.1,964.8 799.0,963.5 802.0,962.2 805.0,960.9 807.9,959.6 810.7,958.4 813.3,957.3 815.5,956.3 817.3,955.5 818.7,954.9 818.8,954.8"/><polyline points="833.3,950.2 833.8,950.2 834.3,950.3 834.7,950.4 835.1,950.6 835.5,950.8 835.9,951.0 836.2,951.2 836.6,951.5 836.9,951.7 837.3,952.0 837.6,952.2 838.0,952.5 838.4,952.8 838.8,953.1 839.2,953.4 839.7,953.8 840.1,954.2 840.5,954.5 840.9,954.9 841.3,955.3 841.6,955.6 841.9,955.9 842.2,956.1 842.4,956.3"/></g>
<rect x="136.6" y="55.4" width="706.1" height="296.40000000000003" fill="none" stroke="#000" stroke-width="2.53"/>
<line x1="136.6" y1="351.8" x2="136.6" y2="362.86" stroke="#000" stroke-width="2.53"/>
<line x1="489.65" y1="351.8" x2="489.65" y2="362.86" stroke="#000" stroke-width="2.53"/>
<line x1="842.7" y1="351.8" x2="842.7" y2="362.86" stroke="#000" stroke-width="2.53"/>
<rect x="136.6" y="415.5" width="706.1" height="399.0" fill="none" stroke="#000" stroke-width="2.53"/>
<line x1="136.6" y1="814.5" x2="136.6" y2="825.56" stroke="#000" stroke-width="2.53"/>
<line x1="489.65" y1="814.5" x2="489.65" y2="825.56" stroke="#000" stroke-width="2.53"/>
<line x1="842.7" y1="814.5" x2="842.7" y2="825.56" stroke="#000" stroke-width="2.53"/>
<rect x="136.6" y="878.2" width="706.1" height="399.20000000000005" fill="none" stroke="#000" stroke-width="2.53"/>
<line x1="136.6" y1="1277.4" x2="136.6" y2="1288.46" stroke="#000" stroke-width="2.53"/>
<line x1="489.65" y1="1277.4" x2="489.65" y2="1288.46" stroke="#000" stroke-width="2.53"/>
<line x1="842.7" y1="1277.4" x2="842.7" y2="1288.46" stroke="#000" stroke-width="2.53"/>
<line x1="125.53999999999999" y1="108.95" x2="136.6" y2="108.95" stroke="#000" stroke-width="2.53"/>
<line x1="125.53999999999999" y1="163.1" x2="136.6" y2="163.1" stroke="#000" stroke-width="2.53"/>
<line x1="125.53999999999999" y1="217.0" x2="136.6" y2="217.0" stroke="#000" stroke-width="2.53"/>
<line x1="125.53999999999999" y1="270.95" x2="136.6" y2="270.95" stroke="#000" stroke-width="2.53"/>
<line x1="125.53999999999999" y1="324.9" x2="136.6" y2="324.9" stroke="#000" stroke-width="2.53"/>
<line x1="842.7" y1="128.9" x2="853.76" y2="128.9" stroke="#000" stroke-width="2.53"/>
<line x1="842.7" y1="203.1" x2="853.76" y2="203.1" stroke="#000" stroke-width="2.53"/>
<line x1="842.7" y1="277.3" x2="853.76" y2="277.3" stroke="#000" stroke-width="2.53"/>
<line x1="125.53999999999999" y1="514.8" x2="136.6" y2="514.8" stroke="#000" stroke-width="2.53"/>
<line x1="125.53999999999999" y1="614.6" x2="136.6" y2="614.6" stroke="#000" stroke-width="2.53"/>
<line x1="125.53999999999999" y1="714.5" x2="136.6" y2="714.5" stroke="#000" stroke-width="2.53"/>
<line x1="125.53999999999999" y1="968.9" x2="136.6" y2="968.9" stroke="#000" stroke-width="2.53"/>
<line x1="125.53999999999999" y1="1059.6" x2="136.6" y2="1059.6" stroke="#000" stroke-width="2.53"/>
<line x1="125.53999999999999" y1="1150.3" x2="136.6" y2="1150.3" stroke="#000" stroke-width="2.53"/>
<line x1="125.53999999999999" y1="1241.1" x2="136.6" y2="1241.1" stroke="#000" stroke-width="2.53"/>
<text transform="translate(92.09,123.95) scale(0.9682,1)" font-family='"Liberation Sans", sans-serif' font-weight="normal" font-style="normal" font-size="39.83" fill="#000" stroke="#000" stroke-width="0.6" stroke-linejoin="round" >2</text>
<text transform="translate(90.90,178.10) scale(1.0032,1)" font-family='"Liberation Sans", sans-serif' font-weight="normal" font-style="normal" font-size="39.83" fill="#000" stroke="#000" stroke-width="0.6" stroke-linejoin="round" >0</text>
<text transform="translate(77.60,232.00) scale(1.0174,1)" font-family='"Liberation Sans", sans-serif' font-weight="normal" font-style="normal" font-size="39.83" fill="#000" stroke="#000" stroke-width="0.6" stroke-linejoin="round" >-2</text>
<text transform="translate(75.89,285.95) scale(1.0425,1)" font-family='"Liberation Sans", sans-serif' font-weight="normal" font-style="normal" font-size="39.83" fill="#000" stroke="#000" stroke-width="0.6" stroke-linejoin="round" >-4</text>
<text transform="translate(76.14,339.90) scale(1.0524,1)" font-family='"Liberation Sans", sans-serif' font-weight="normal" font-style="normal" font-size="39.83" fill="#000" stroke="#000" stroke-width="0.6" stroke-linejoin="round" >-6</text>
<text transform="translate(865.18,143.90) scale(1.0654,1)" font-family='"Liberation Sans", sans-serif' font-weight="normal" font-style="normal" font-size="39.83" fill="#000" stroke="#000" stroke-width="0.6" stroke-linejoin="round" >220</text>
<text transform="translate(865.18,218.10) scale(1.0654,1)" font-family='"Liberation Sans", sans-serif' font-weight="normal" font-style="normal" font-size="39.83" fill="#000" stroke="#000" stroke-width="0.6" stroke-linejoin="round" >240</text>
<text transform="translate(865.18,292.30) scale(1.0654,1)" font-family='"Liberation Sans", sans-serif' font-weight="normal" font-style="normal" font-size="39.83" fill="#000" stroke="#000" stroke-width="0.6" stroke-linejoin="round" >260</text>
<text transform="translate(66.70,529.80) scale(1.0584,1)" font-family='"Liberation Sans", sans-serif' font-weight="normal" font-style="normal" font-size="39.83" fill="#000" stroke="#000" stroke-width="0.6" stroke-linejoin="round" >29</text>
<text transform="translate(66.39,629.60) scale(1.0617,1)" font-family='"Liberation Sans", sans-serif' font-weight="normal" font-style="normal" font-size="39.83" fill="#000" stroke="#000" stroke-width="0.6" stroke-linejoin="round" >26</text>
<text transform="translate(67.07,729.50) scale(1.0458,1)" font-family='"Liberation Sans", sans-serif' font-weight="normal" font-style="normal" font-size="39.83" fill="#000" stroke="#000" stroke-width="0.6" stroke-linejoin="round" >23</text>
<text transform="translate(67.16,983.90) scale(1.0390,1)" font-family='"Liberation Sans", sans-serif' font-weight="normal" font-style="normal" font-size="39.83" fill="#000" stroke="#000" stroke-width="0.6" stroke-linejoin="round" >50</text>
<text transform="translate(42.71,1074.60) scale(1.0611,1)" font-family='"Liberation Sans", sans-serif' font-weight="normal" font-style="normal" font-size="39.83" fill="#000" stroke="#000" stroke-width="0.6" stroke-linejoin="round" >100</text>
<text transform="translate(42.71,1165.30) scale(1.0611,1)" font-family='"Liberation Sans", sans-serif' font-weight="normal" font-style="normal" font-size="39.83" fill="#000" stroke="#000" stroke-width="0.6" stroke-linejoin="round" >150</text>
<text transform="translate(42.43,1256.10) scale(1.0654,1)" font-family='"Liberation Sans", sans-serif' font-weight="normal" font-style="normal" font-size="39.83" fill="#000" stroke="#000" stroke-width="0.6" stroke-linejoin="round" >200</text>
<text transform="translate(78.30,1328.60) scale(1.0507,1)" font-family='"Liberation Sans", sans-serif' font-weight="normal" font-style="normal" font-size="40.11" fill="#000" stroke="#000" stroke-width="0.6" stroke-linejoin="round" >120°E</text>
<text transform="translate(425.37,1328.60) scale(1.0591,1)" font-family='"Liberation Sans", sans-serif' font-weight="normal" font-style="normal" font-size="40.11" fill="#000" stroke="#000" stroke-width="0.6" stroke-linejoin="round" >160°W</text>
<text transform="translate(791.09,1328.60) scale(1.0479,1)" font-family='"Liberation Sans", sans-serif' font-weight="normal" font-style="normal" font-size="40.11" fill="#000" stroke="#000" stroke-width="0.6" stroke-linejoin="round" >80°W</text>
<text transform="translate(276.29,36.00) scale(1.0423,1)" font-family='"Liberation Sans", sans-serif' font-weight="normal" font-style="normal" font-size="49.85" fill="#000" stroke="#000" stroke-width="0.6" stroke-linejoin="round" >Walker</text>
<text transform="translate(450.61,36.00) scale(1.0808,1)" font-family='"Liberation Sans", sans-serif' font-weight="normal" font-style="normal" font-size="49.85" fill="#000" stroke="#000" stroke-width="0.6" stroke-linejoin="round" >Circulation</text>
<text transform="translate(73.50,58.50) scale(1.0299,1)" font-family='"Liberation Sans", sans-serif' font-weight="bold" font-style="normal" font-size="50.18" fill="#000" >a</text>
<text transform="translate(73.07,419.40) scale(1.1307,1)" font-family='"Liberation Sans", sans-serif' font-weight="bold" font-style="normal" font-size="49.39" fill="#000" >b</text>
<text transform="translate(72.78,882.90) scale(1.0019,1)" font-family='"Liberation Sans", sans-serif' font-weight="bold" font-style="normal" font-size="49.09" fill="#000" >c</text>
<text transform="translate(172.54,322.10) scale(1.0721,1)" font-family='"Liberation Sans", sans-serif' font-weight="bold" font-style="normal" font-size="50.15" fill="#000" >ZWS</text>
<text transform="translate(173.19,774.80) scale(1.0008,1)" font-family='"Liberation Sans", sans-serif' font-weight="bold" font-style="normal" font-size="50.15" fill="#000" >SST</text>
<text transform="translate(170.90,938.10) scale(1.0757,1)" font-family='"Liberation Sans", sans-serif' font-weight="bold" font-style="normal" font-size="50.73" fill="#000" >TD</text>
<text transform="translate(430.39,762.60) scale(1.1832,1)" font-family='"Liberation Serif", serif' font-weight="normal" font-style="italic" font-size="52.08" fill="#0000ff" >χ</text>
<text transform="translate(743.67,1168.20) scale(1.1046,1)" font-family='"Liberation Serif", serif' font-weight="normal" font-style="italic" font-size="51.15" fill="#0000ff" >h</text>
<text transform="translate(774.36,1175.60) scale(1.0581,1)" font-family='"Liberation Serif", serif' font-weight="normal" font-style="italic" font-size="36.49" fill="#0000ff" >M</text>
<text transform="translate(55.30,308.84) rotate(-90) scale(1.0964,1)" font-family='"Liberation Sans", sans-serif' font-weight="normal" font-style="normal" font-size="38.42" fill="#000" stroke="#000" stroke-width="0.6" stroke-linejoin="round">0.01 N.m</text>
<text transform="translate(41.90,136.45) rotate(-90) scale(1.3148,1)" font-family='"Liberation Sans", sans-serif' font-weight="normal" font-style="normal" font-size="25.64" fill="#000" stroke="#000" stroke-width="0.6" stroke-linejoin="round">−2</text>
<text transform="translate(45.50,635.90) rotate(-90) scale(0.9788,1)" font-family='"Liberation Sans", sans-serif' font-weight="normal" font-style="normal" font-size="39.83" fill="#000" stroke="#000" stroke-width="0.6" stroke-linejoin="round">°C</text>
<text transform="translate(22.50,1095.91) rotate(-90) scale(1.1102,1)" font-family='"Liberation Sans", sans-serif' font-weight="normal" font-style="normal" font-size="39.78" fill="#000" stroke="#000" stroke-width="0.6" stroke-linejoin="round">m</text>
<text transform="translate(978.50,264.16) rotate(-90) scale(1.0222,1)" font-family='"Liberation Sans", sans-serif' font-weight="normal" font-style="normal" font-size="39.97" fill="#000" stroke="#000" stroke-width="0.6" stroke-linejoin="round">W.m</text>
<text transform="translate(965.30,180.09) rotate(-90) scale(1.1893,1)" font-family='"Liberation Sans", sans-serif' font-weight="normal" font-style="normal" font-size="27.22" fill="#000" stroke="#000" stroke-width="0.6" stroke-linejoin="round">−2</text>
<rect x="156.3" y="1359.4" width="575.7" height="177.2" rx="7" ry="7" fill="#fff" fill-opacity="0.8" stroke="#cccccc" stroke-width="2.53"/>
<line x1="166.1" y1="1390.3" x2="251.3" y2="1390.3" stroke="#000" stroke-width="9.48"/>
<line x1="170.6" y1="1446.1" x2="246.6" y2="1446.1" stroke="#800080" stroke-width="9.48" stroke-dasharray="35.2 15.3"/>
<line x1="170.6" y1="1501.8" x2="246.6" y2="1501.8" stroke="#ff8c00" stroke-width="9.48" stroke-dasharray="35.2 15.3"/>
<text transform="translate(276.26,1403.70) scale(1.0789,1)" font-family='"Liberation Sans", sans-serif' font-weight="normal" font-style="normal" font-size="39.68" fill="#000" stroke="#000" stroke-width="0.6" stroke-linejoin="round" >Idealized</text>
<text transform="translate(459.36,1403.70) scale(1.0794,1)" font-family='"Liberation Sans", sans-serif' font-weight="normal" font-style="normal" font-size="39.68" fill="#000" stroke="#000" stroke-width="0.6" stroke-linejoin="round" >Geometry</text>
<text transform="translate(276.91,1459.50) scale(1.0668,1)" font-family='"Liberation Sans", sans-serif' font-weight="normal" font-style="normal" font-size="39.68" fill="#000" stroke="#000" stroke-width="0.6" stroke-linejoin="round" >Observed</text>
<text transform="translate(472.92,1459.50) scale(1.0470,1)" font-family='"Liberation Sans", sans-serif' font-weight="normal" font-style="normal" font-size="39.68" fill="#000" stroke="#000" stroke-width="0.6" stroke-linejoin="round" >Averages</text>
<text transform="translate(276.91,1514.90) scale(1.0668,1)" font-family='"Liberation Sans", sans-serif' font-weight="normal" font-style="normal" font-size="39.68" fill="#000" stroke="#000" stroke-width="0.6" stroke-linejoin="round" >Observed</text>
<text transform="translate(472.92,1514.90) scale(1.0507,1)" font-family='"Liberation Sans", sans-serif' font-weight="normal" font-style="normal" font-size="39.68" fill="#000" stroke="#000" stroke-width="0.6" stroke-linejoin="round" >Average</text>
<text transform="translate(639.12,1514.90) scale(0.9552,1)" font-family='"Liberation Sans", sans-serif' font-weight="normal" font-style="normal" font-size="39.68" fill="#000" stroke="#000" stroke-width="0.6" stroke-linejoin="round" >OLR</text>
</svg></body></html>
